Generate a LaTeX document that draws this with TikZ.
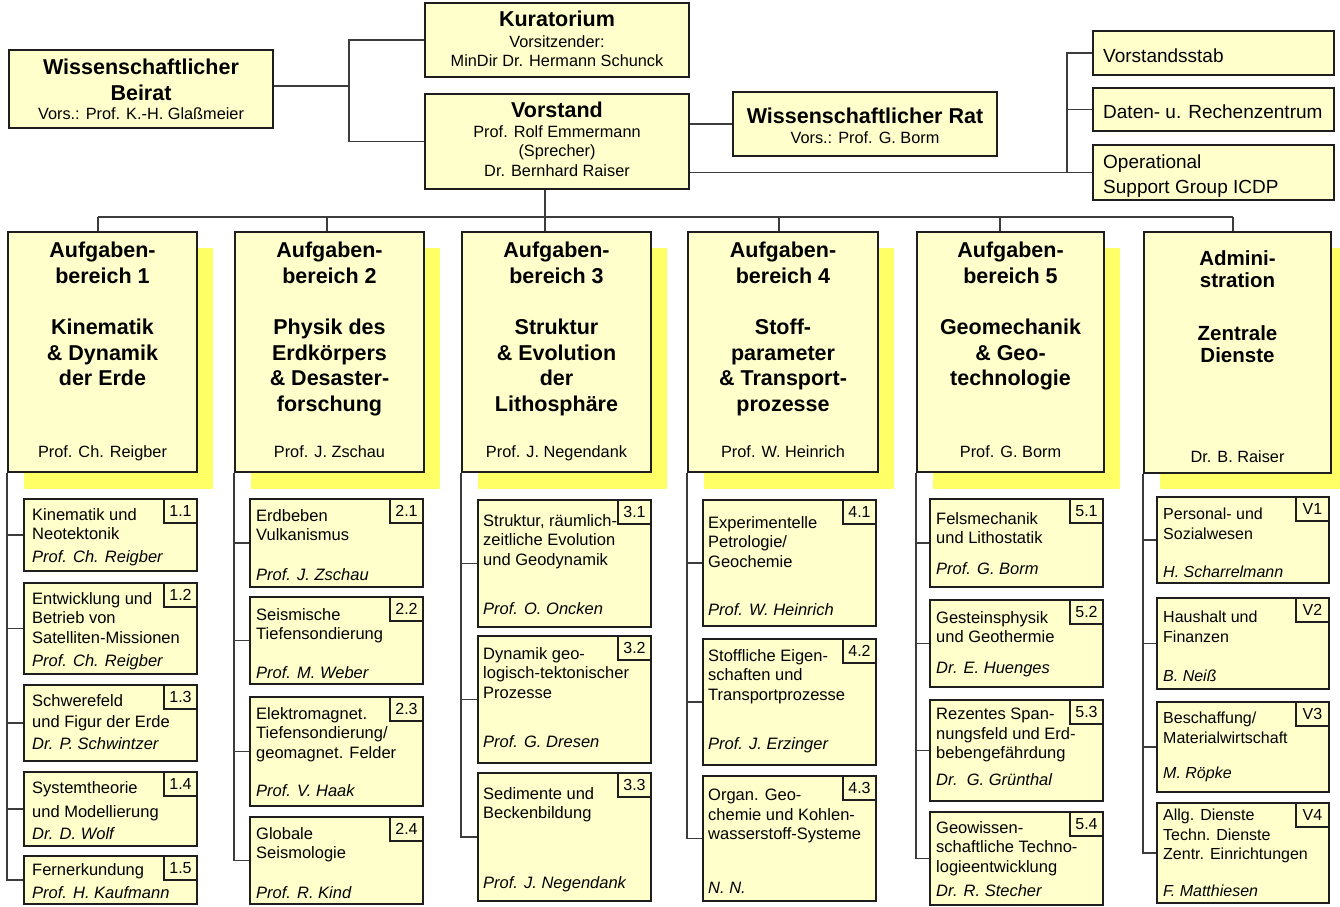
\documentclass[tikz,border=0pt]{standalone}
\usepackage{fontspec}
\setmainfont{Liberation Sans}
\definecolor{boxfill}{HTML}{FFFFCC}
\definecolor{shadowc}{HTML}{FFFF66}
\definecolor{edgec}{HTML}{1E1E1E}
\definecolor{linec}{HTML}{3C3C3C}
\newcommand{\subfont}{\fontsize{16.5}{19.5}\selectfont}
\newcommand{\orgrect}[5]{\node[orgbox, minimum width={#4-#2}, minimum height={#5-#3}] (#1) at ({(#2+#4)/2},{(#3+#5)/2}) {};}
% #1 name, #2 y1, #3 y2, #4 tag, #5 title, #6 title north y, #7 person, #8 person baseline
\newcommand{\orgunit}[8]{%
  \orgrect{#1}{\cxa}{#2}{\cxb}{#3}
  \node[tagbox, anchor=north east] (#1t) at (#1.north east) {#4};
  \node[subtxt, anchor=north west] (#1a) at ({\cxa+\ins},{#6}) {#5};
  \node[nametxt, anchor=base west] (#1n) at ({\cxa+\ins},{#8}) {#7};
  \draw[conn] (\colnode.south west) |- (#1.west);
}
% #1 name, #2 x1, #3 x2, #4 title, #5 person
\newcommand{\aufbox}[5]{%
  \fill[shadowc] ({#2+16},248) rectangle ({#3+16},489);
  \orgrect{#1}{#2}{232}{#3}{472}
  \node[abtitle, anchor=north] (#1a) at ({(#2+#3)/2},242) {#4};
  \node[st, anchor=base] (#1n) at ({(#2+#3)/2},457) {#5};
}
\begin{document}
\begin{tikzpicture}[x=1pt,y=-1pt,
  orgbox/.style={draw=edgec, line width=1.6pt, fill=boxfill, inner sep=0pt, rectangle},
  tagbox/.style={orgbox, minimum width=33, minimum height=24, font=\fontsize{16}{16}\selectfont},
  conn/.style={draw=linec, line width=1.6pt},
  bt/.style={inner sep=0pt, font=\bfseries\fontsize{21.5}{25.5}\selectfont},
  st/.style={inner sep=0pt, font=\fontsize{16.3}{20}\selectfont},
  rt/.style={inner sep=0pt, font=\fontsize{19}{24}\selectfont},
  abtitle/.style={inner sep=0pt, align=center, font=\bfseries\fontsize{21.5}{25.5}\selectfont},
  subtxt/.style={inner sep=0pt, align=left, font=\subfont},
  nametxt/.style={inner sep=0pt, font=\subfont\itshape}
]
\clip (0,0) rectangle (1340,906);
\fill[white] (0,0) rectangle (1340,906);

% ---------- top level ----------
\orgrect{beirat}{9}{50}{273}{128}
\node[bt, anchor=base] (beirat1) at (141,74) {Wissenschaftlicher};
\node[bt, anchor=base] (beirat2) at (141,100) {Beirat};
\node[st, anchor=base] (beirat3) at (141,119) {Vors.: Prof. K.-H. Glaßmeier};

\orgrect{kur}{425}{3}{689}{77}
\node[bt, anchor=base] (kur1) at (557,26) {Kuratorium};
\node[st, anchor=base] (kur2) at (557,47) {Vorsitzender:};
\node[st, anchor=base] (kur3) at (557,66) {MinDir Dr. Hermann Schunck};

\orgrect{vor}{425}{94}{689}{189}
\node[bt, anchor=base] (vor1) at (557,117) {Vorstand};
\node[st, anchor=base] (vor2) at (557,137) {Prof. Rolf Emmermann};
\node[st, anchor=base] (vor3) at (557,156) {(Sprecher)};
\node[st, anchor=base] (vor4) at (557,176) {Dr. Bernhard Raiser};

\orgrect{rat}{733}{92}{997}{156}
\node[bt, anchor=base] (rat1) at (865,123) {Wissenschaftlicher Rat};
\node[st, anchor=base] (rat2) at (865,143) {Vors.: Prof. G. Borm};

\orgrect{stab}{1093}{31}{1334}{75}
\node[rt, anchor=base west] (stab1) at (1103,62) {Vorstandsstab};
\orgrect{daten}{1093}{88}{1334}{131}
\node[rt, anchor=base west] (daten1) at (1103,118) {Daten- u. Rechenzentrum};
\orgrect{ops}{1093}{145}{1334}{200}
\node[rt, anchor=base west] (ops1) at (1103,168) {Operational};
\node[rt, anchor=base west] (ops2) at (1103,193) {Support Group ICDP};

\coordinate (j1) at (349,86);
\draw[conn] (beirat.east |- j1) -- (j1);
\draw[conn] (kur.west) -| (j1);
\draw[conn] (vor.west) -| (j1);
\draw[conn] (vor.east |- rat.west) -- (rat.west);
\coordinate (j2) at (1067,173);
\draw[conn] (vor.east |- ops.west) -- (ops.west);
\draw[conn] (stab.west) -| (j2);
\draw[conn] (daten.west) -| (j2);

% ---------- Aufgabenbereiche ----------
\aufbox{ab1}{8}{197}{Aufgaben-\\bereich 1\\[26pt]Kinematik\\\& Dynamik\\der Erde}{Prof. Ch. Reigber}
\aufbox{ab2}{235}{424}{Aufgaben-\\bereich 2\\[26pt]Physik des\\Erdkörpers\\\& Desaster-\\forschung}{Prof. J. Zschau}
\aufbox{ab3}{462}{651}{Aufgaben-\\bereich 3\\[26pt]Struktur\\\& Evolution\\der\\Lithosphäre}{Prof. J. Negendank}
\aufbox{ab4}{688}{878}{Aufgaben-\\bereich 4\\[26pt]Stoff-\\parameter\\\& Transport-\\prozesse}{Prof. W. Heinrich}
\aufbox{ab5}{917}{1104}{Aufgaben-\\bereich 5\\[26pt]Geomechanik\\\& Geo-\\technologie}{Prof. G. Borm}

\fill[shadowc] (1160,248) rectangle (1347,489);
\orgrect{adm}{1144}{232}{1331}{473}
\node[inner sep=0pt, align=center, font=\bfseries\fontsize{20.5}{22.5}\selectfont, anchor=north] (adma) at (1237.5,250) {Admini-\\stration\\[30pt]Zentrale\\Dienste};
\node[st, anchor=base] (admn) at (1237.5,462) {Dr. B. Raiser};

% bus
\coordinate (d1) at (98,217);
\coordinate (d2) at (327,217);
\coordinate (d4) at (779,217);
\coordinate (d5) at (1000,217);
\coordinate (d6) at (1233,217);
\coordinate (vd) at ([xshift=-12pt]vor.south);
\draw[conn] (vd) -- (vd |- ab3.north);
\draw[conn] (d1) -- (d6);
\draw[conn] (d1) -- (d1 |- ab1.north);
\draw[conn] (d2) -- (d2 |- ab2.north);
\draw[conn] (d4) -- (d4 |- ab4.north);
\draw[conn] (d5) -- (d5 |- ab5.north);
\draw[conn] (d6) -- (d6 |- adm.north);

% ---------- column 1 ----------
\def\cxa{24}\def\cxb{197}\def\ins{8}\def\colnode{ab1}
\orgunit{s11}{499}{571}{1.1}{Kinematik und\\Neotektonik}{508}{Prof. Ch. Reigber}{562}
\orgunit{s12}{583}{674}{1.2}{Entwicklung und\\Betrieb von\\Satelliten-Missionen}{592}{Prof. Ch. Reigber}{666}
\orgunit{s13}{685}{761}{1.3}{Schwerefeld\\[1.5pt]und Figur der Erde}{694}{Dr. P. Schwintzer}{749}
\orgunit{s14}{772}{846}{1.4}{Systemtheorie\\[4.5pt]und Modellierung}{781}{Dr. D. Wolf}{839}
\orgunit{s15}{856}{904}{1.5}{Fernerkundung}{863}{Prof. H. Kaufmann}{898}

% ---------- column 2 ----------
\def\cxa{250}\def\cxb{423}\def\ins{6}\def\colnode{ab2}
\orgunit{s21}{499}{587}{2.1}{Erdbeben\\Vulkanismus}{509}{Prof. J. Zschau}{580}
\orgunit{s22}{597}{684}{2.2}{Seismische\\Tiefensondierung}{608}{Prof. M. Weber}{678}
\orgunit{s23}{697}{806}{2.3}{Elektromagnet.\\Tiefensondierung/\\geomagnet. Felder}{707}{Prof. V. Haak}{796}
\orgunit{s24}{817}{904}{2.4}{Globale\\Seismologie}{827}{Prof. R. Kind}{898}

% ---------- column 3 ----------
\def\cxa{478}\def\cxb{651}\def\ins{5}\def\colnode{ab3}
\orgunit{s31}{500}{627}{3.1}{Struktur, räumlich-\\zeitliche Evolution\\und Geodynamik}{514}{Prof. O. Oncken}{614}
\orgunit{s32}{636}{763}{3.2}{Dynamik geo-\\logisch-tektonischer\\Prozesse}{647}{Prof. G. Dresen}{747}
\orgunit{s33}{773}{901}{3.3}{Sedimente und\\Beckenbildung}{787}{Prof. J. Negendank}{888}

% ---------- column 4 ----------
\def\cxa{703}\def\cxb{876}\def\ins{5}\def\colnode{ab4}
\orgunit{s41}{500}{626}{4.1}{Experimentelle\\Petrologie/\\Geochemie}{516}{Prof. W. Heinrich}{615}
\orgunit{s42}{639}{765}{4.2}{Stoffliche Eigen-\\schaften und\\Transportprozesse}{649}{Prof. J. Erzinger}{749}
\orgunit{s43}{776}{901}{4.3}{Organ. Geo-\\chemie und Kohlen-\\wasserstoff-Systeme}{789}{N. N.}{893}

% ---------- column 5 ----------
\def\cxa{930}\def\cxb{1103}\def\ins{6}\def\colnode{ab5}
\orgunit{s51}{499}{587}{5.1}{Felsmechanik\\und Lithostatik}{512}{Prof. G. Borm}{574}
\orgunit{s52}{600}{687}{5.2}{Gesteinsphysik\\und Geothermie}{611}{Dr. E. Huenges}{673}
\orgunit{s53}{700}{801}{5.3}{Rezentes Span-\\nungsfeld und Erd-\\bebengefährdung}{708}{Dr.~~G. Grünthal}{785}
\orgunit{s54}{812}{905}{5.4}{Geowissen-\\schaftliche Techno-\\logieentwicklung}{821}{Dr. R. Stecher}{896}

% ---------- Administration ----------
\renewcommand{\subfont}{\fontsize{16}{19.5}\selectfont}
\def\cxa{1157}\def\cxb{1329}\def\ins{6}\def\colnode{adm}
\orgunit{v1}{497}{583}{V1}{Personal- und\\Sozialwesen}{508}{H. Scharrelmann}{577}
\orgunit{v2}{598}{689}{V2}{Haushalt und\\Finanzen}{611}{B. Neiß}{681}
\orgunit{v3}{702}{792}{V3}{Beschaffung/\\Materialwirtschaft}{712}{M. Röpke}{778}
\orgunit{v4}{803}{903}{V4}{Allg. Dienste\\Techn. Dienste\\Zentr. Einrichtungen}{809}{F. Matthiesen}{896}
\end{tikzpicture}
\end{document}
